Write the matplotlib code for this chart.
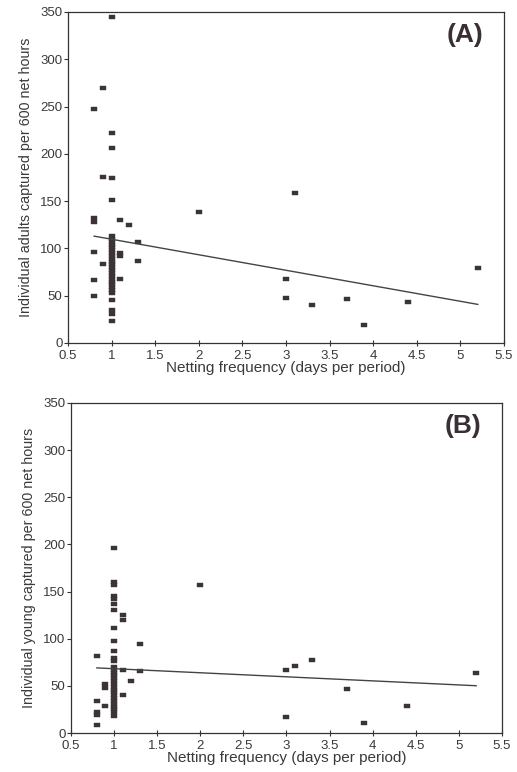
import numpy as np
import matplotlib
matplotlib.use("Agg")
import matplotlib.pyplot as plt

plt.rcParams["font.family"] = ["Liberation Sans", "DejaVu Sans"]

# ---- data ----
# (A) adults
adults_x = [1.0, 0.9, 0.8, 1.0, 1.0, 0.9, 1.0, 1.0,
            0.8, 0.8, 1.1, 1.2, 1.3, 0.8, 0.9, 1.1, 1.1, 1.3,
            0.8, 1.1, 0.8,
            1.0, 1.0, 1.0, 1.0, 1.0, 1.0, 1.0, 1.0, 1.0, 1.0, 1.0,
            1.0, 1.0, 1.0, 1.0, 1.0, 1.0, 1.0, 1.0, 1.0, 1.0,
            1.0, 1.0, 1.0, 1.0,
            2.0, 3.1, 3.0, 3.0, 3.3, 3.7, 3.9, 4.4, 5.2]
adults_y = [345, 270, 247, 222, 206, 176, 174, 151,
            132, 128, 130, 125, 107, 96, 84, 95, 92, 87,
            67, 68, 50,
            113, 110, 107, 104, 101, 98, 95, 92, 89, 86, 83,
            80, 77, 74, 71, 68, 65, 62, 59, 56, 53,
            45, 35, 31, 23,
            139, 159, 68, 48, 40, 47, 19, 43, 79]
fit_a = (-16.4, 126.1)   # slope, intercept

# (B) young
young_x = [1.0, 1.0, 1.0, 1.0, 1.0, 1.0, 1.0, 1.0, 1.0, 1.0, 1.0, 1.0,
           1.0, 1.0, 1.0, 1.0, 1.0, 1.0, 1.0, 1.0, 1.0, 1.0, 1.0, 1.0,
           1.0, 1.0, 1.0, 1.0, 1.0, 1.0,
           0.8, 0.8, 0.8, 0.8, 0.8,
           0.9, 0.9, 0.9,
           1.1, 1.1, 1.1, 1.1, 1.2, 1.3, 1.3,
           2.0, 3.0, 3.0, 3.1, 3.3, 3.7, 3.9, 4.4, 5.2]
young_y = [196, 160, 157, 145, 142, 137, 130, 111, 98, 87, 80, 76,
           70, 67, 64, 61, 58, 55, 52, 49, 46, 43, 40, 37,
           34, 31, 28, 25, 22, 18,
           82, 34, 22, 19, 8,
           52, 48, 29,
           125, 120, 67, 40, 55, 94, 66,
           157, 67, 17, 71, 77, 47, 11, 29, 64]
fit_b = (-4.3, 72.5)

fit_range = [0.8, 5.2]
xticks = [0.5, 1, 1.5, 2, 2.5, 3, 3.5, 4, 4.5, 5, 5.5]
xtick_labels = ["0.5", "1", "1.5", "2", "2.5", "3", "3.5", "4", "4.5", "5", "5.5"]
yticks = [0, 50, 100, 150, 200, 250, 300, 350]

INK = "#3b3338"
TXT = "#3a3a3a"
rect = [(-1, -0.7), (1, -0.7), (1, 0.7), (-1, 0.7), (-1, -0.7)]


def panel(ax, xs, ys, fit, ylabel, tag):
    ax.plot(xs, ys, linestyle="none", marker=rect, markersize=4.2,
            markerfacecolor=INK, markeredgecolor=INK, markeredgewidth=0.3)
    fx = np.array(fit_range)
    ax.plot(fx, fit[0] * fx + fit[1], color="#444444", lw=1.0)
    ax.set_xlim(0.5, 5.5)
    ax.set_ylim(0, 350)
    ax.set_xticks(xticks)
    ax.set_xticklabels(xtick_labels)
    ax.set_yticks(yticks)
    ax.tick_params(axis="x", direction="inout", length=5, width=0.8,
                   labelsize=9.5, colors="#333333", labelcolor=TXT, pad=2.5)
    ax.tick_params(axis="y", direction="out", length=3, width=0.8,
                   labelsize=9.5, colors="#333333", labelcolor=TXT, pad=1)
    for s in ax.spines.values():
        s.set_color("#333333")
        s.set_linewidth(0.9)
    ax.set_xlabel("Netting frequency (days per period)", fontsize=11,
                  color=TXT, labelpad=-1)
    ax.set_ylabel(ylabel, fontsize=10.3, color=TXT, labelpad=5)
    ax.text(0.91, 0.93, tag, transform=ax.transAxes, fontsize=19,
            fontweight="bold", color="#3a2f35", ha="center", va="center")


fig = plt.figure(figsize=(5.17, 7.72), dpi=100)
ax_a = fig.add_axes([0.1315, 0.5557, 0.8433, 0.4288])
ax_b = fig.add_axes([0.1373, 0.0505, 0.8337, 0.4275])
panel(ax_a, adults_x, adults_y, fit_a,
      "Individual adults captured per 600 net hours", "(A)")
panel(ax_b, young_x, young_y, fit_b,
      "Individual young captured per 600 net hours", "(B)")
fig.savefig("out.png", dpi=100, facecolor="white")
